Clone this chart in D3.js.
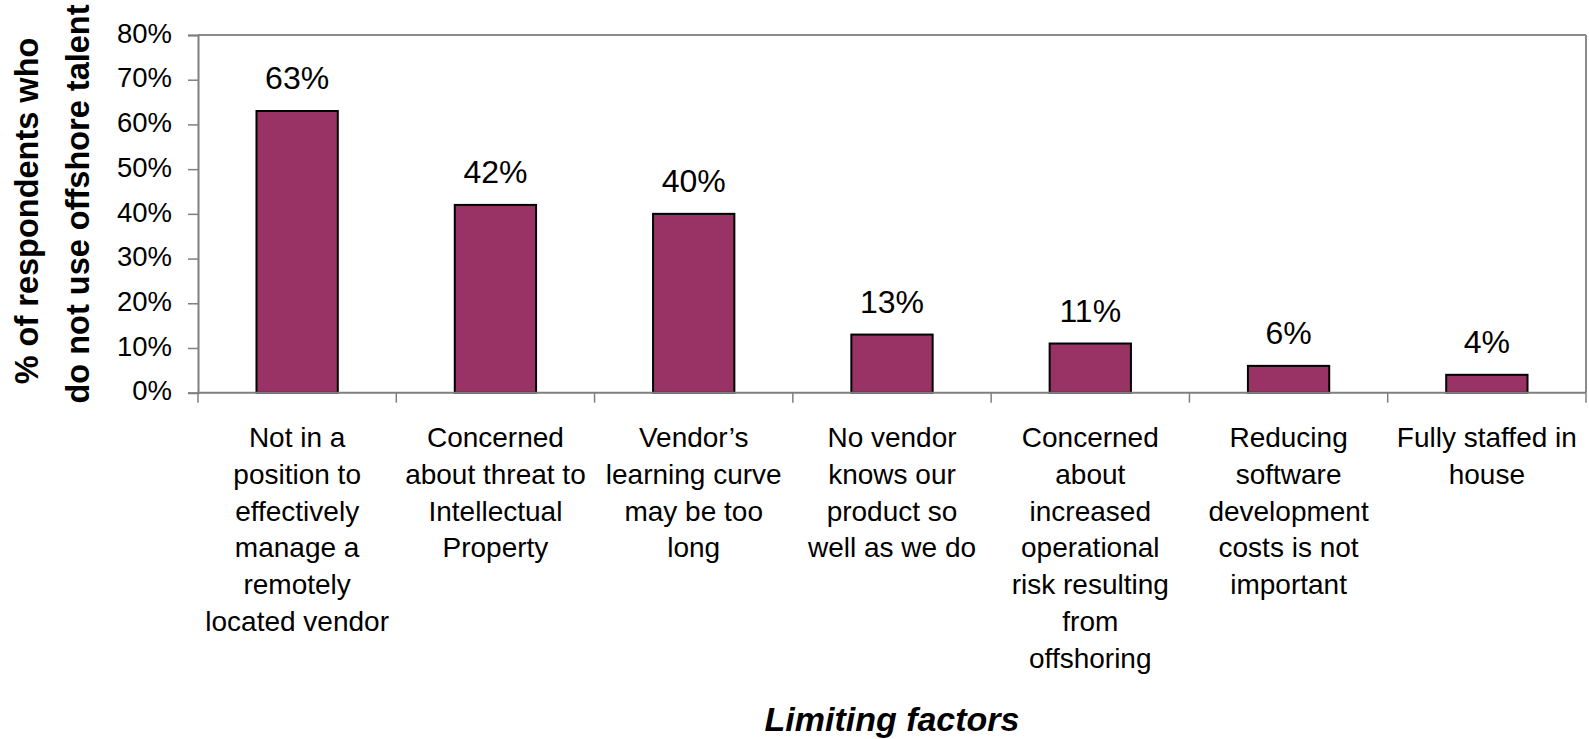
<!DOCTYPE html>
<html>
<head>
<meta charset="utf-8">
<script src="https://cdn.jsdelivr.net/npm/d3@7"></script>
<style>
  html, body { margin: 0; padding: 0; background: #fff; }
  svg { display: block; font-family: "Liberation Sans", Arial, sans-serif; }
</style>
</head>
<body>
<svg id="chart" width="1589" height="739"></svg>
<script>
const categories = [
  ["Not in a", "position to", "effectively", "manage a", "remotely", "located vendor"],
  ["Concerned", "about threat to", "Intellectual", "Property"],
  ["Vendor\u2019s", "learning curve", "may be too", "long"],
  ["No vendor", "knows our", "product so", "well as we do"],
  ["Concerned", "about", "increased", "operational", "risk resulting", "from", "offshoring"],
  ["Reducing", "software", "development", "costs is not", "important"],
  ["Fully staffed in", "house"]
];
const values = [0.63, 0.42, 0.40, 0.13, 0.11, 0.06, 0.04];
const yTicks = [0, 0.1, 0.2, 0.3, 0.4, 0.5, 0.6, 0.7, 0.8];
const yTitle = ["% of respondents who", "do not use offshore talent"];
const xTitle = "Limiting factors";

(function () {
const svg = d3.select("#chart");
const pL = 198, pR = 1586, pT = 35, pB = 392.7;
const ids = categories.map((c, i) => i);

const x = d3.scaleBand().domain(ids).range([pL, pR]).paddingInner(0.59).paddingOuter(0.295);
const y = d3.scaleLinear().domain([0, 0.8]).range([pB, pT]);

// plot border (top & right)
svg.append("line").attr("x1", pL).attr("x2", pR).attr("y1", pT).attr("y2", pT)
  .attr("stroke", "#8a8a8a").attr("stroke-width", 2);
svg.append("line").attr("x1", pR).attr("x2", pR).attr("y1", pT).attr("y2", pB)
  .attr("stroke", "#8a8a8a").attr("stroke-width", 2);

// bars
svg.append("g").selectAll("rect").data(values).join("rect")
  .attr("x", (d, i) => x(i))
  .attr("width", x.bandwidth())
  .attr("y", d => y(d))
  .attr("height", d => y(0) - y(d))
  .attr("fill", "#993366")
  .attr("stroke", "#000")
  .attr("stroke-width", 2);

// y axis
const yAxis = svg.append("g").attr("transform", `translate(${pL},0)`)
  .call(d3.axisLeft(y).tickValues(yTicks).tickFormat(d3.format(".0%")).tickSize(10).tickPadding(16));
yAxis.select(".domain").attr("stroke", "#7f7f7f").attr("stroke-width", 2);
yAxis.selectAll(".tick line").attr("stroke", "#7f7f7f").attr("stroke-width", 1.5);
yAxis.selectAll(".tick text").attr("font-size", 27.5).attr("fill", "#000")
  .attr("font-family", "Liberation Sans, Arial, sans-serif").attr("dy", "0.26em");

// x axis line
svg.append("line").attr("x1", pL).attr("x2", pR).attr("y1", pB).attr("y2", pB)
  .attr("stroke", "#7f7f7f").attr("stroke-width", 2);
// x category boundary ticks
const step = x.step();
const boundaries = ids.map(i => x(i) - (step - x.bandwidth()) / 2).concat([pR]);
svg.append("g").selectAll("line").data(boundaries).join("line")
  .attr("x1", d => d).attr("x2", d => d)
  .attr("y1", pB).attr("y2", pB + 10)
  .attr("stroke", "#7f7f7f").attr("stroke-width", 1.5);

// data labels
svg.append("g").selectAll("text").data(values).join("text")
  .attr("x", (d, i) => x(i) + x.bandwidth() / 2)
  .attr("y", d => y(d) - 22)
  .attr("text-anchor", "middle")
  .attr("font-size", 32)
  .attr("fill", "#000")
  .text(d => d3.format(".0%")(d));

// category labels
const catG = svg.append("g");
categories.forEach((lines, i) => {
  const cx = x(i) + x.bandwidth() / 2;
  const t = catG.append("text")
    .attr("x", cx)
    .attr("y", 447)
    .attr("text-anchor", "middle")
    .attr("font-size", 28)
    .attr("fill", "#000");
  lines.forEach((ln, j) => {
    t.append("tspan").attr("x", cx).attr("y", 447 + j * 36.8).text(ln);
  });
});

// y title
const yt = svg.append("text")
  .attr("transform", "translate(0,207) rotate(-90)")
  .attr("text-anchor", "middle")
  .attr("font-size", 32.5)
  .attr("font-weight", "bold")
  .attr("fill", "#000");
yt.append("tspan").attr("x", -4).attr("y", 38).text(yTitle[0]);
yt.append("tspan").attr("x", 3).attr("y", 89).text(yTitle[1]);

// x title
svg.append("text")
  .attr("x", (pL + pR) / 2)
  .attr("y", 731)
  .attr("text-anchor", "middle")
  .attr("font-size", 34)
  .attr("font-weight", "bold")
  .attr("font-style", "italic")
  .attr("fill", "#000")
  .text(xTitle);
})();
</script>
</body>
</html>
